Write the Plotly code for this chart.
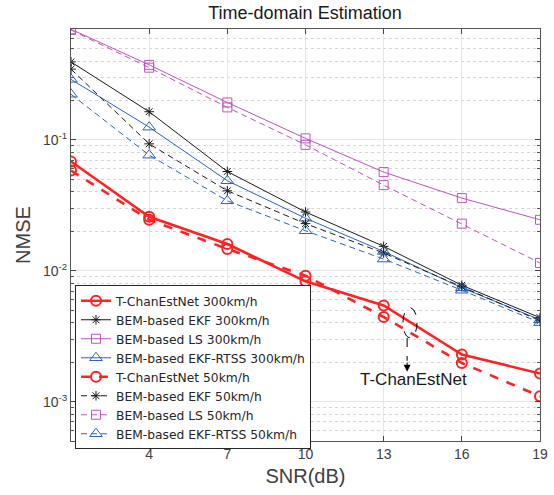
import plotly.graph_objects as go
import math

snr = [1, 4, 7, 10, 13, 16, 19]

tcen_300 = [0.0683, 0.0258, 0.0160, 0.0083, 0.00543, 0.00229, 0.00164]
ekf_300 = [0.394, 0.164, 0.0573, 0.0281, 0.01535, 0.00774, 0.00438]
ls_300 = [0.70, 0.374, 0.193, 0.1026, 0.0567, 0.0359, 0.0245]
rtss_300 = [0.290, 0.125, 0.0487, 0.0252, 0.01403, 0.00741, 0.00422]
tcen_50 = [0.0583, 0.0245, 0.01466, 0.00917, 0.00443, 0.00197, 0.00110]
ekf_50 = [0.347, 0.0932, 0.0408, 0.0229, 0.01365, 0.00755, 0.00415]
ls_50 = [0.69, 0.356, 0.177, 0.0916, 0.0451, 0.0229, 0.01146]
rtss_50 = [0.223, 0.0764, 0.0342, 0.0202, 0.01228, 0.00710, 0.00401]

x_ticks = [4, 7, 10, 13, 16, 19]
y_ticks = [1e-3, 1e-2, 1e-1]
y_tick_text = ["10<sup>-3</sup>", "10<sup>-2</sup>", "10<sup>-1</sup>"]

RED = "#ff2222"
BLACK = "#1a1a1a"
PURPLE = "#bb55bb"
BLUE = "#2c62c0"

series = [
    ("T-ChanEstNet 300km/h", tcen_300, RED, "solid", 2.6, "circle-open", 10),
    ("BEM-based EKF 300km/h", ekf_300, BLACK, "solid", 1, "asterisk-open", 8),
    ("BEM-based LS 300km/h", ls_300, PURPLE, "solid", 1, "square-open", 9),
    ("BEM-based EKF-RTSS 300km/h", rtss_300, BLUE, "solid", 1, "triangle-up-open", 11),
    ("T-ChanEstNet 50km/h", tcen_50, RED, "dash", 2.6, "circle-open", 10),
    ("BEM-based EKF 50km/h", ekf_50, BLACK, "dash", 1, "asterisk-open", 8),
    ("BEM-based LS 50km/h", ls_50, PURPLE, "dash", 1, "square-open", 9),
    ("BEM-based EKF-RTSS 50km/h", rtss_50, BLUE, "dash", 1, "triangle-up-open", 11),
]

fig = go.Figure()
for name, vals, col, dash, w, sym, sz in series:
    fig.add_trace(go.Scatter(
        x=snr, y=vals, name=name, mode="lines+markers",
        line=dict(color=col, dash=("6px,4px" if (dash == "dash" and w < 2) else dash), width=w),
        marker=dict(symbol=sym, size=sz, color=col,
                    line=dict(color=col, width=2 if w > 2 else 1)),
    ))

AX = "#555555"
FONT = "Liberation Sans, Arial, sans-serif"

fig.update_layout(
    width=554, height=495,
    margin=dict(l=71, r=14, t=29, b=54, autoexpand=False),
    paper_bgcolor="white", plot_bgcolor="white",
    font=dict(family=FONT, color="#404040", size=14),
    title=dict(text="Time-domain Estimation", x=0.5505, xanchor="center",
               y=0.974, yanchor="middle",
               font=dict(size=18, color="#1a1a1a")),
    legend=dict(x=0.0085, y=0.378, xanchor="left", yanchor="top",
                bgcolor="white", bordercolor="#262626", borderwidth=1,
                font=dict(size=12.3, color="#262626", family="DejaVu Sans, sans-serif"),
                tracegroupgap=0),
    showlegend=True,
)

fig.update_xaxes(
    range=[1, 19], tickvals=x_ticks, ticks="inside", ticklen=5,
    showline=True, linecolor=AX, linewidth=1, mirror="ticks",
    showgrid=True, gridcolor="#e6e6e6", gridwidth=1, zeroline=False,
    automargin=False,
    title=dict(text="SNR(dB)", font=dict(size=20, color="#404040"), standoff=8),
    tickfont=dict(size=14, color="#404040"),
)
fig.update_yaxes(
    type="log", range=[math.log10(5e-4), math.log10(0.703)],
    tickvals=y_ticks, ticktext=y_tick_text, ticks="inside", ticklen=5,
    showline=True, linecolor=AX, linewidth=1, mirror="ticks",
    showgrid=True, gridcolor="#e6e6e6", gridwidth=1, zeroline=False,
    automargin=False,
    minor=dict(dtick="D1", ticks="inside", ticklen=3, showgrid=True,
               gridcolor="#d6d6d6", griddash="dot", tickcolor=AX),
    title=dict(text="NMSE", font=dict(size=20, color="#404040"), standoff=6),
    tickfont=dict(size=14, color="#404040"),
)

# Annotation: dashed ellipse, arrow and label
fig.add_shape(type="circle", xref="x", yref="y",
              x0=13.74, x1=14.28, y0=0.00308, y1=0.00522,
              line=dict(color="black", width=1, dash="dash"))
fig.add_shape(type="line", xref="x", yref="y",
              x0=13.9, x1=13.9, y0=0.00306, y1=0.00205,
              line=dict(color="black", width=1, dash="dash"))
fig.add_annotation(x=13.9, y=-2.771, ax=13.9, ay=-2.69,
                   xref="x", yref="y", axref="x", ayref="y",
                   text="", showarrow=True, arrowhead=2, arrowsize=1.4,
                   arrowwidth=1, arrowcolor="black")
fig.add_annotation(x=14.13, y=-2.83, xref="x", yref="y",
                   text="T-ChanEstNet", showarrow=False,
                   font=dict(size=17, color="#1a1a1a", family=FONT))

fig.write_html(
    "out.html",
    config={"displayModeBar": False},
    post_script="document.body.style.margin='0';document.body.style.overflow='hidden';",
)
